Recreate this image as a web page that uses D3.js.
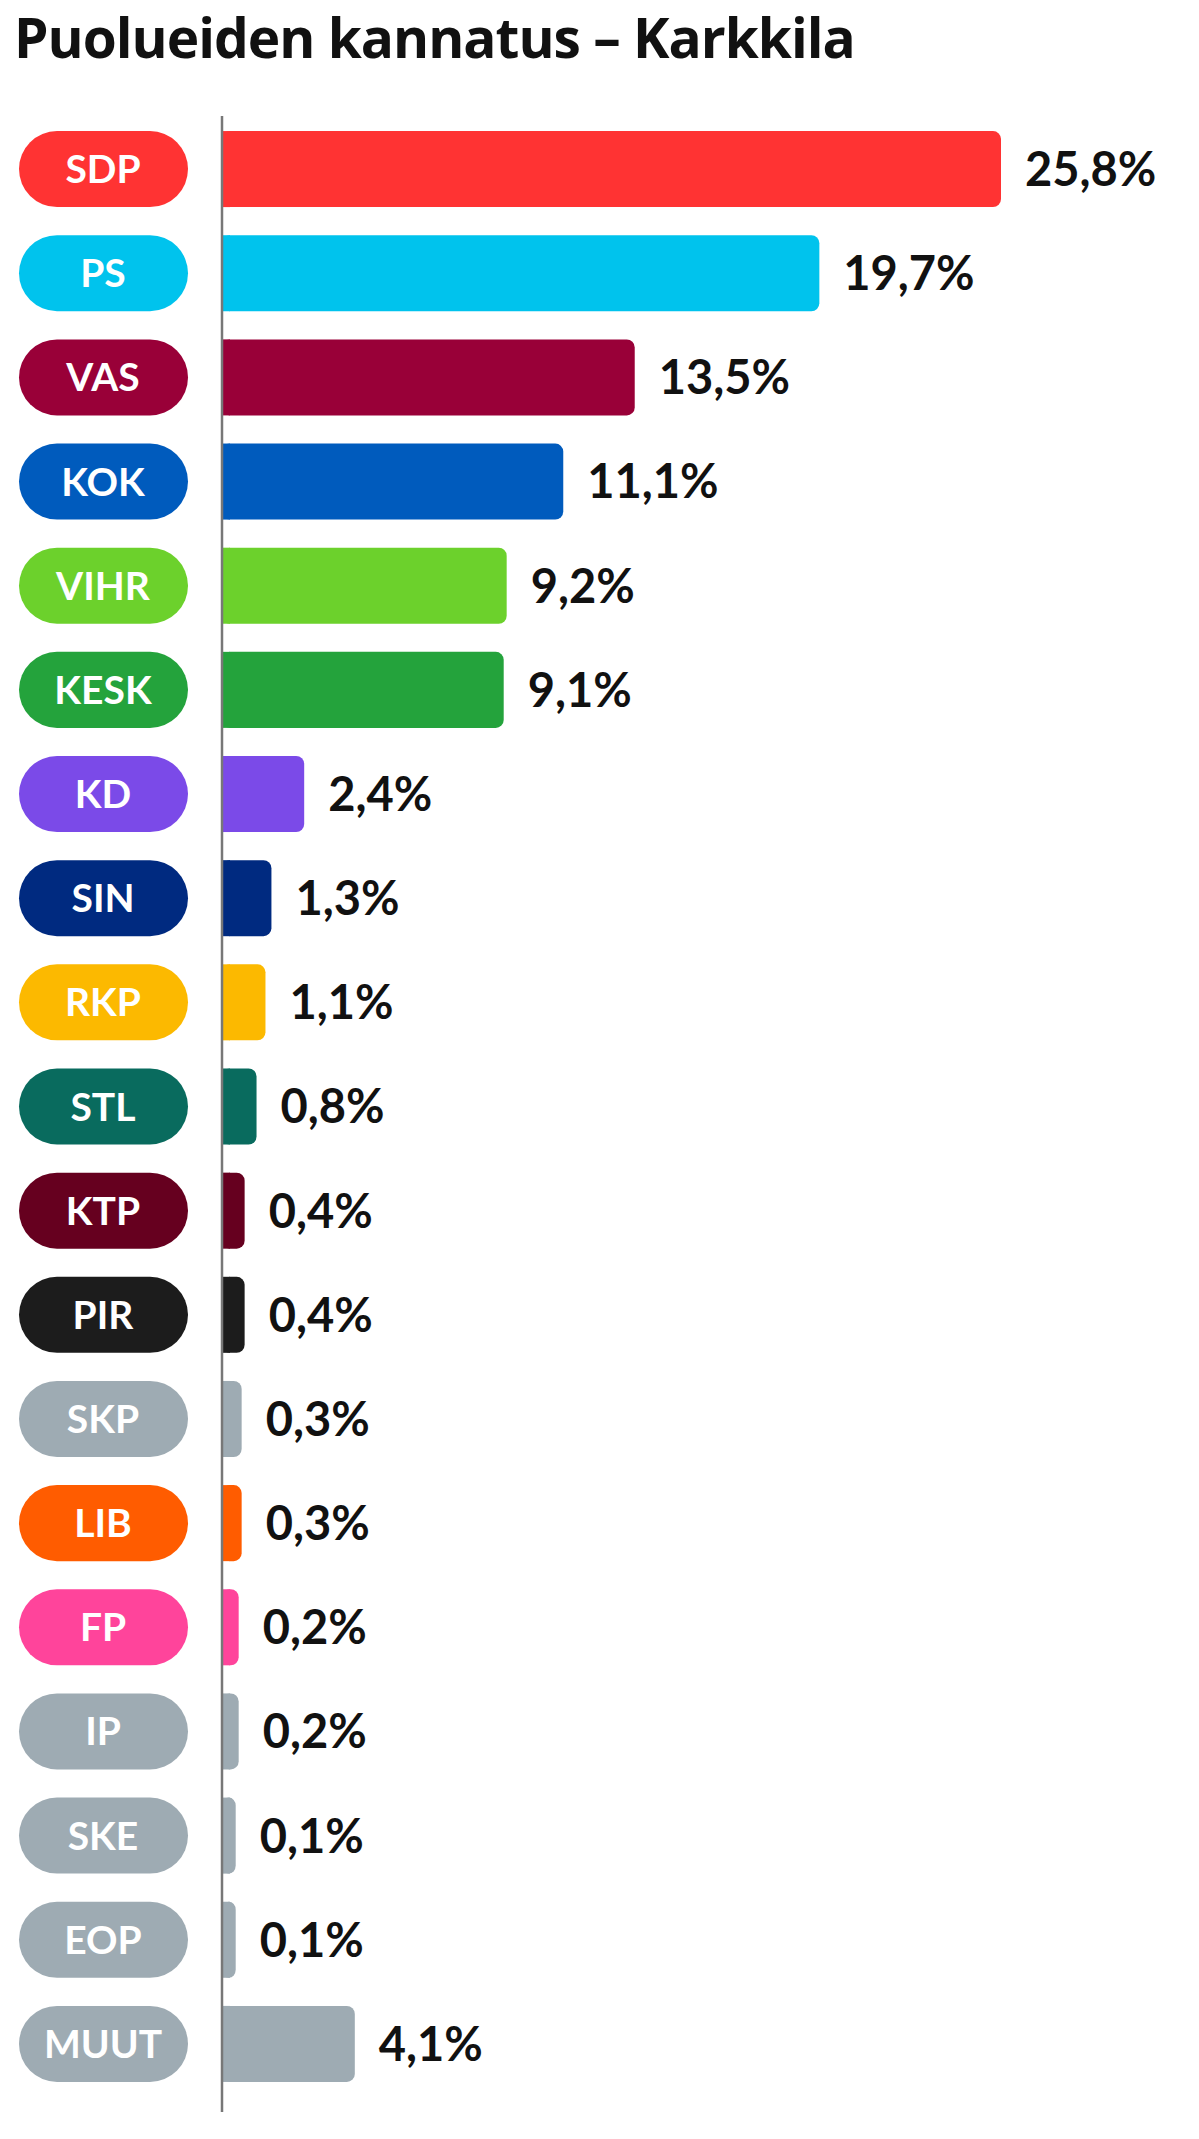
<!DOCTYPE html>
<html><head><meta charset="utf-8">
<script src="https://cdn.jsdelivr.net/npm/d3@7"></script>
<style>body{margin:0;background:#fff}svg{display:block;font-family:Lato,"Open Sans",sans-serif}</style>
</head><body><svg id="c" width="1199" height="2139"></svg>
<script>
var parties = ['SDP','PS','VAS','KOK','VIHR','KESK','KD','SIN','RKP','STL','KTP','PIR','SKP','LIB','FP','IP','SKE','EOP','MUUT'];
var values = [25.8,19.7,13.5,11.1,9.2,9.1,2.4,1.3,1.1,0.8,0.4,0.4,0.3,0.3,0.2,0.2,0.1,0.1,4.1];
var colors = ['#ff3333','#00c3ed','#990038','#005bbd','#6cd12c','#24a33c','#7b4ae8','#002a80','#fcb900','#096b5e','#66001f','#1c1c1c','#9eabb3','#ff5c00','#ff449b','#9eabb3','#9eabb3','#9eabb3','#9eabb3'];

var svg = d3.select('#c');
var x0 = 222;
// bars start a little past the axis line so tiny values stay visible
var x = d3.scaleLinear().domain([-0.36, 25.8]).range([x0, 1001]);
var y = d3.scaleBand().domain(parties).range([117, 2096]).paddingInner(0.27).paddingOuter(0.135);
var bh = y.bandwidth();
var fmt = function(v) { return d3.format('.1f')(v).replace('.', ',') + '%'; };

svg.append('text').attr('x', 14).attr('y', 58).attr('font-size', 55).attr('font-weight', 700)
  .attr('font-family', '"Open Sans",sans-serif').attr('letter-spacing', -1)
  .attr('fill', '#111').text('Puolueiden kannatus – Karkkila');

var row = svg.selectAll('g.row').data(parties).enter().append('g').attr('class', 'row')
  .attr('transform', function(d) { return 'translate(0,' + y(d) + ')'; });

row.append('rect').attr('x', 19).attr('width', 169).attr('height', bh).attr('rx', bh / 2)
  .attr('fill', function(d, i) { return colors[i]; });
row.append('text').attr('x', 103).attr('y', bh / 2).attr('dy', '0.36em').attr('text-anchor', 'middle')
  .attr('font-size', 39).attr('font-weight', 700).attr('fill', '#fff').text(function(d) { return d; });

row.append('rect').attr('x', x0).attr('height', bh).attr('rx', 8)
  .attr('width', function(d, i) { return x(values[i]) - x0; })
  .attr('fill', function(d, i) { return colors[i]; });
row.append('rect').attr('x', x0).attr('height', bh)
  .attr('width', function(d, i) { return Math.min(8, x(values[i]) - x0); })
  .attr('fill', function(d, i) { return colors[i]; });
row.append('text').attr('x', function(d, i) { return x(values[i]) + 24; })
  .attr('y', bh / 2).attr('dy', '0.36em').attr('font-size', 47).attr('font-weight', 700)
  .attr('fill', '#111').text(function(d, i) { return fmt(values[i]); });

svg.append('line').attr('x1', x0).attr('x2', x0).attr('y1', 116).attr('y2', 2112)
  .attr('stroke', '#777').attr('stroke-width', 2.5);
</script></body></html>
